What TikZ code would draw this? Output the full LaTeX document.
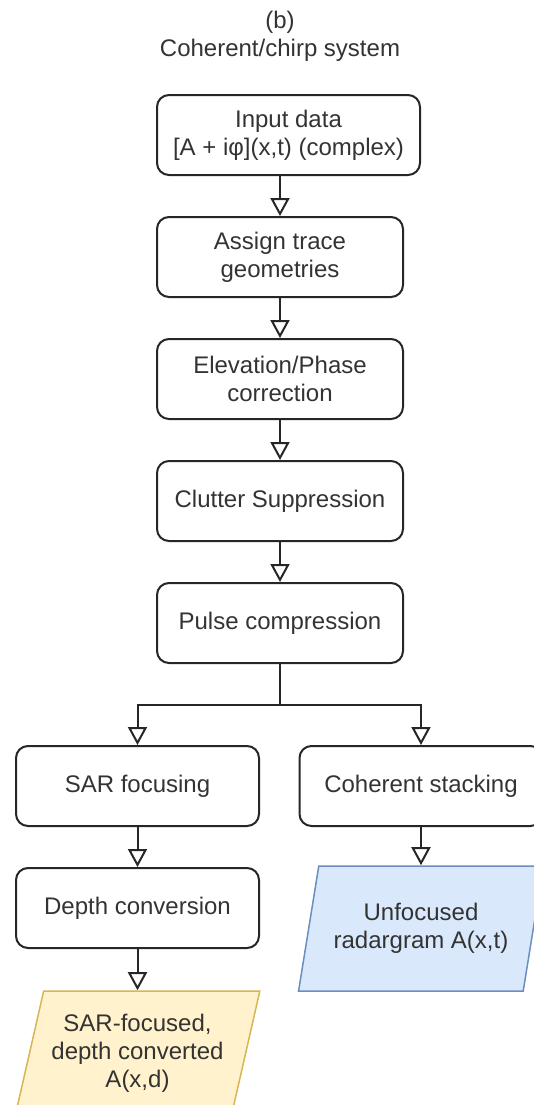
\documentclass[tikz,border=0pt]{standalone}
\usepackage{fontspec}
\setmainfont{Liberation Sans}
\usetikzlibrary{arrows.meta, shapes.geometric}
\definecolor{inkgray}{HTML}{333333}
\definecolor{yelfill}{HTML}{FFF2CC}
\definecolor{yeldraw}{HTML}{D6B656}
\definecolor{bluefill}{HTML}{DAE8FC}
\definecolor{bluedraw}{HTML}{6C8EBF}

\begin{document}
\begin{tikzpicture}[x=0.5pt, y=-0.5pt,
	every node/.style={font=\fontsize{12}{14}\selectfont, text=inkgray, align=center},
	stepbox/.style={draw=black!85, line width=1pt, rounded corners=6pt,
		minimum width=123pt, minimum height=40pt, inner sep=2pt},
	outbox/.style={trapezium, trapezium left angle=72, trapezium right angle=108,
		trapezium stretches=true, minimum width=122.5pt, minimum height=62.5pt,
		line width=0.75pt, inner sep=1pt},
	flow/.style={draw=black!85, line width=1pt,
		-{Triangle[open, width=9.5pt, length=9pt]}}]
		% Drawing units are the pixels of the 534x1105 page, y downwards.
		\useasboundingbox (0,0) rectangle (534,1105);
		\def\xmid{280}

		\node (title) at (\xmid,36) {(b)\\Coherent/chirp system};

		% Main processing column.
		\node[stepbox, minimum width=131.5pt] (input) at (288.5,135)
			{Input data\\{}[A + iφ](x,t) (complex)};
		\foreach \n/\y/\t in {assign/257/{Assign trace\\geometries},
				elev/379/{Elevation/Phase\\correction},
				clutter/501/{Clutter Suppression},
				pulse/623/{Pulse compression}} {
			\node[stepbox] (\n) at (\xmid,\y) {\t};
		}
		\draw[flow] (assign.north |- input.south) -- (assign.north);
		\foreach \a/\b in {assign/elev, elev/clutter, clutter/pulse} {
			\draw[flow] (\a.south) -- (\b.north);
		}

		% The two branches.
		\node[stepbox, minimum width=121.5pt] (sar) at (137.5,786) {SAR focusing};
		\node[stepbox, minimum width=121.5pt] (coh) at (421,786) {Coherent stacking};
		\node[stepbox, minimum width=121.5pt] (depth) at (137.5,908) {Depth conversion};

		\coordinate (split) at (\xmid,705);
		\draw[draw=black!85, line width=1pt] (pulse.south) -- (split);
		\draw[flow] (split) -| (sar.north);
		\draw[flow] (split) -| (coh.north);
		\draw[flow] (sar.south) -- (depth.north);

		% Output products.
		\node[outbox, draw=yeldraw, fill=yelfill] (sarf) at (137.5,1053.5)
			{SAR-focused,\\depth converted\\A(x,d)};
		\node[outbox, draw=bluedraw, fill=bluefill] (unf) at (421,928.5)
			{Unfocused\\radargram A(x,t)};
		\draw[flow] (depth.south) -- (depth.south |- sarf.north);
		\draw[flow] (coh.south) -- (coh.south |- unf.north);
	\end{tikzpicture}
\end{document}
